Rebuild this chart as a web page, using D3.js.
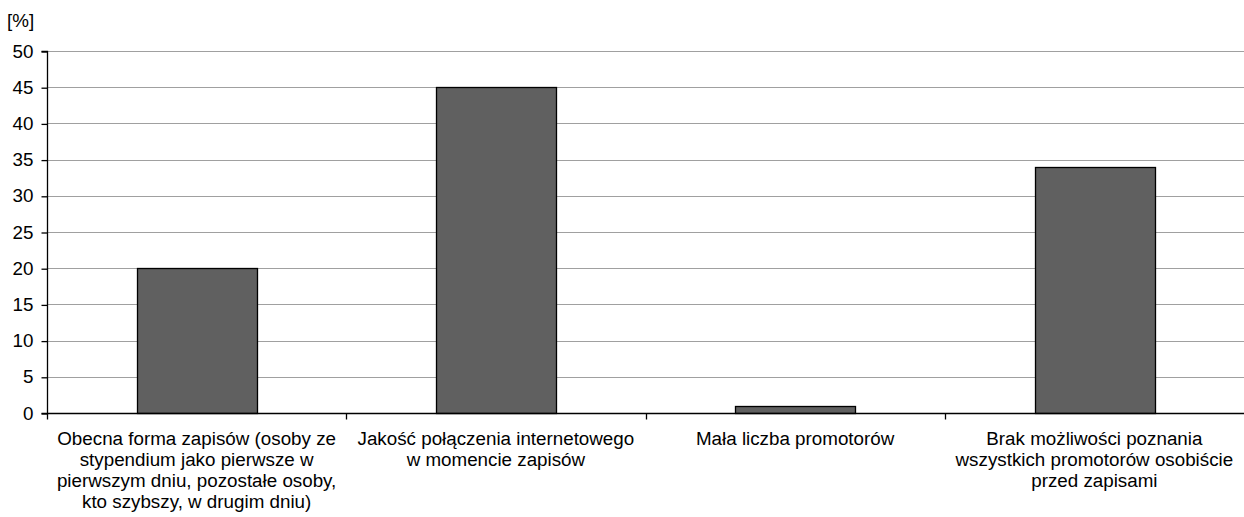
<!DOCTYPE html>
<html><head><meta charset="utf-8">
<script src="https://cdn.jsdelivr.net/npm/d3@7"></script>
<style>body{margin:0;background:#fff}svg{display:block}text{font-family:"Liberation Sans",Arial,sans-serif}</style>
</head><body>
<svg id="c" width="1244" height="517"></svg>
<script>
const categories = [
  ["Obecna forma zapisów (osoby ze","stypendium jako pierwsze w","pierwszym dniu, pozostałe osoby,","kto szybszy, w drugim dniu)"],
  ["Jakość połączenia internetowego","w momencie zapisów"],
  ["Mała liczba promotorów"],
  ["Brak możliwości poznania","wszystkich promotorów osobiście","przed zapisami"]
];
const values = [20, 45, 1, 34];
const yTicks = [0,5,10,15,20,25,30,35,40,45,50];
const unitLabel = "[%]";

const FS = 18.8;
const svg = d3.select("#c");
const m = {l:47, r:0, t:51, b:104};
const W = 1244, H = 517;
const xb = d3.scaleBand().domain(d3.range(categories.length)).range([m.l, W - m.r]);
const y = d3.scaleLinear().domain([0,50]).range([H - m.b, m.t]);

// gridlines
svg.append("g").selectAll("line").data(yTicks.filter(d=>d>0)).join("line")
  .attr("x1", m.l).attr("x2", W).attr("y1", d=>Math.round(y(d))+0.5).attr("y2", d=>Math.round(y(d))+0.5)
  .attr("stroke", "#a0a0a0").attr("stroke-width", 1.2);

// bars
svg.append("g").selectAll("rect").data(values).join("rect")
  .attr("x", (d,i)=>Math.round(xb(i) + xb.bandwidth()*0.3)+0.5)
  .attr("width", Math.round(xb.bandwidth()*0.4))
  .attr("y", d=>Math.round(y(d))+0.5)
  .attr("height", d=>Math.round(y(0)) - Math.round(y(d)))
  .attr("fill", "#606060").attr("stroke", "#000").attr("stroke-width", 1.3);

// y axis
const ya = svg.append("g").attr("transform", `translate(${m.l+0.5},0)`)
  .call(d3.axisLeft(y).tickValues(yTicks).tickSize(6).tickPadding(8).tickFormat(d3.format("d")));
ya.select(".domain").attr("stroke","#000").attr("stroke-width",1.3).attr("d", `M-6,${Math.round(y(50))+0.5}H0V${Math.round(y(0))+0.5}H-6`);
ya.selectAll(".tick line").attr("stroke","#000").attr("stroke-width",1.3).attr("transform","translate(0,0.5)");
ya.selectAll(".tick text").attr("font-size", FS).attr("fill","#000").attr("font-family",'"Liberation Sans",Arial,sans-serif');

// x axis line
const y0 = Math.round(y(0))+0.5;
svg.append("line").attr("x1", m.l).attr("x2", W).attr("y1", y0).attr("y2", y0).attr("stroke","#000").attr("stroke-width",1.3);
// x ticks at boundaries
const bounds = d3.range(categories.length+1).map(i => m.l + i*xb.step());
svg.append("g").selectAll("line").data(bounds.slice(0,-1)).join("line")
  .attr("x1", d=>Math.round(d)+0.5).attr("x2", d=>Math.round(d)+0.5).attr("y1", y0).attr("y2", y0+6)
  .attr("stroke","#000").attr("stroke-width",1.3);

// category labels
const lab = svg.append("g").selectAll("text").data(categories).join("text")
  .attr("x", (d,i)=>xb(i)+xb.bandwidth()/2).attr("y", 445)
  .attr("text-anchor","middle").attr("font-size", FS).attr("fill","#000");
lab.selectAll("tspan").data(d=>d).join("tspan")
  .attr("x", function(){return this.parentNode.getAttribute("x");})
  .attr("dy", (d,i)=> i===0 ? 0 : 21).text(d=>d);

svg.append("text").attr("x", 7).attr("y", 27).attr("font-size", FS).attr("fill","#000").text(unitLabel);
</script>
</body></html>
